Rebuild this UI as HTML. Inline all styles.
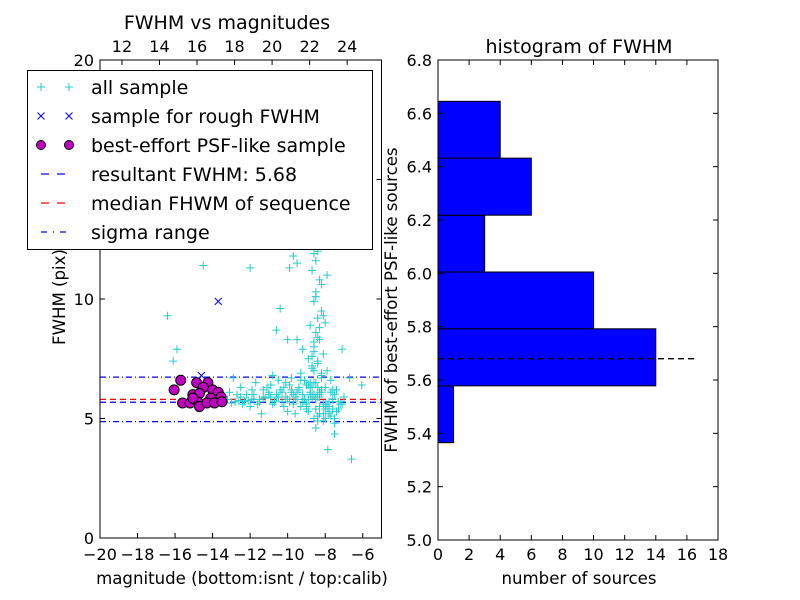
<!DOCTYPE html>
<html><head><meta charset="utf-8"><style>
body{margin:0;background:#fff}
svg{display:block;font-family:"DejaVu Sans","Liberation Sans",sans-serif}
</style></head><body>
<svg id="c" width="800" height="600" viewBox="0 0 800 600"></svg>
<script>
// ---- data ----
const allMag = [-14.5,-12.0,-16.4,-15.9,-16.1,-9.7,-9.5,-9.9,-10.4,-10.6,-10.0,-9.5,-9.2,-7.1,-6.05,-6.7,-7.86,-6.6,-7.5,
 -8.6,-8.4,-8.5,-8.7,-8.3,-8.5,-8.6,-8.2,-8.4,-8.8,-8.5,-8.3,-8.6,-8.1,-8.4,-8.7,-8.2,-8.5,-8.0,-8.3,-8.6,-8.4,-7.9,-8.2,-7.7,-7.6,-8.8,-9.0,-8.4,-8.5,-8.3,
 -13.2,-12.8,-12.5,-12.1,-11.8,-11.5,-11.2,-10.9,-10.6,-10.3,-10.0,-9.8,-9.6,-9.4,-9.2,-9.0,-8.8,-8.6,-8.4,-8.2,-8.0,-7.8,-7.6,-7.4,-7.2,
 -13.0,-12.6,-12.3,-11.9,-11.6,-11.3,-11.0,-10.7,-10.4,-10.1,-9.9,-9.7,-9.5,-9.3,-9.1,-8.9,-8.7,-8.5,-8.3,-8.1,-7.9,-7.7,-7.5,-7.3,
 -12.9,-12.2,-11.7,-11.1,-10.5,-10.2,-9.8,-9.6,-9.3,-9.0,-8.7,-8.4,-8.1,-7.8,-7.5,-7.0,-11.4,-10.8,-9.2,-8.9,-8.6,-8.0,-7.7,-12.0,-10.0,
 -13.4,-13.1,-12.7,-12.4,-11.9,-11.5,-11.0,-10.8,-10.5,-10.2,-9.9,-9.7,-9.4,-9.1,-8.9,-8.6,-8.3,-8.0,-7.8,-7.5,-7.3,-7.1,
 -12.5,-11.8,-11.3,-10.9,-10.6,-10.3,-10.1,-9.8,-9.5,-9.3,-9.0,-8.8,-8.5,-8.2,-7.9,-7.6,-7.4,
 -8.9,-8.7,-8.4,-8.1,-8.6,-8.3,-8.0,-8.8,-8.5,-8.2,-7.8,-8.6,-8.3,-8.7,-8.4,-8.1,-8.5,-8.2,-7.9,-8.6];
const allFwhm = [11.4,11.3,9.3,7.9,7.4,11.8,11.5,11.3,9.6,8.7,8.3,8.3,7.9,7.9,6.4,6.7,3.7,3.3,4.35,
 12.4,12.0,11.6,11.2,10.8,10.3,9.9,9.5,9.2,8.9,8.6,8.3,8.0,7.7,7.4,7.1,6.8,6.5,9.0,8.8,8.2,7.3,7.0,6.9,6.6,6.2,6.0,5.5,4.9,4.6,5.2,
 5.8,5.7,5.9,5.75,5.8,5.7,5.85,5.9,6.0,6.1,5.8,6.2,5.9,6.3,6.0,6.4,6.1,6.5,5.9,6.2,5.6,5.5,5.4,5.3,5.6,
 5.65,5.75,5.7,5.8,5.6,5.9,6.0,5.7,6.2,5.9,6.4,5.6,6.1,5.5,6.6,5.8,6.3,5.4,6.0,5.2,5.6,5.1,5.0,5.7,
 6.7,6.0,6.5,6.3,6.6,5.5,6.7,5.2,6.9,5.4,7.2,5.1,4.9,5.3,4.8,5.9,5.2,6.8,5.7,7.5,7.8,5.0,6.1,5.5,5.3,
 5.9,6.1,6.0,5.6,6.2,5.8,6.1,5.6,5.9,6.3,5.7,6.0,6.2,5.8,6.4,6.0,5.9,6.3,5.7,6.0,5.4,5.6,
 6.3,6.0,6.2,6.4,5.9,5.7,6.5,6.1,5.8,6.6,5.6,6.3,5.9,6.1,5.5,5.8,6.2,
 5.3,5.9,6.3,5.6,5.0,6.1,5.4,6.5,5.8,6.7,5.2,7.0,5.5,7.6,8.4,9.3,10.1,10.6,11.0,11.9];
const roughMag = [-13.7,-14.6,-14.9,-14.3];
const roughFwhm = [9.9,6.8,5.7,6.4];
const psfMag = [-15.7,-16.05,-14.85,-14.25,-14.5,-14.0,-13.7,-15.05,-14.7,-14.1,-13.55,-15.6,-15.2,-14.8,-14.7,-14.3,-13.9,-13.5,-15.05];
const psfFwhm = [6.6,6.2,6.5,6.5,6.3,6.2,6.1,6.0,6.05,5.85,5.9,5.65,5.65,5.7,5.5,5.65,5.65,5.7,5.85];
const resultFwhm = 5.68, medianFwhm = 5.8, sigLo = 4.87, sigHi = 6.73;
const binEdges = [5.365,5.578,5.792,6.005,6.218,6.432,6.645];
const binCounts = [1,14,10,3,6,4];
const xTicksL = [-20,-18,-16,-14,-12,-10,-8,-6];
const xTickLabelsL = ["\u221220","\u221218","\u221216","\u221214","\u221212","\u221210","\u22128","\u22126"];
const topTicks = [12,14,16,18,20,22,24];
const yTicksL = [0,5,10,15,20];
const xTicksR = [0,2,4,6,8,10,12,14,16,18];
const yTicksR = [5.0,5.2,5.4,5.6,5.8,6.0,6.2,6.4,6.6,6.8];

const S = document.getElementById('c'), NS='http://www.w3.org/2000/svg';
function el(t,a,p){const e=document.createElementNS(NS,t);for(const k in a)e.setAttribute(k,a[k]);(p||S).appendChild(e);return e;}
function txt(x,y,s,size,anchor,extra){const e=el('text',Object.assign({x:x,y:y,'font-size':size,'text-anchor':anchor||'middle',fill:'#000'},extra||{}));e.textContent=s;return e;}

const L={x0:100,x1:381.5,y0:538,y1:60};
const lx=m=>L.x0+(m+20)/15*(L.x1-L.x0);
const ly=f=>L.y0-f/20*(L.y0-L.y1);
const topX=t=>lx(t-30.83);
const R={x0:438,x1:718,y0:540,y1:60};
const rx=n=>R.x0+n/18*(R.x1-R.x0);
const ry=f=>R.y0-(f-5)/1.8*(R.y0-R.y1);

const gl=el('g',{});


for(const [f,c,d,n] of [[sigHi,'#00f','6,3,1,3','sigma-high-line'],[sigLo,'#00f','6,3,1,3','sigma-low-line'],[medianFwhm,'#f00','6,4','median-line'],[resultFwhm,'#00f','6,4','resultant-line']]){
  const ln=el('line',{x1:L.x0,x2:L.x1,y1:ly(f),y2:ly(f),stroke:c,'stroke-width':1.3,'stroke-dasharray':d},gl);
  
  
}
for(let i=0;i<allMag.length;i++){
  const x=lx(allMag[i]),y=ly(allFwhm[i]);
  const p=el('path',{d:`M${x-4},${y}H${x+4}M${x},${y-4}V${y+4}`,stroke:'#2cc',fill:'none','stroke-width':1},gl);
  
  
}
for(let i=0;i<roughMag.length;i++){
  const x=lx(roughMag[i]),y=ly(roughFwhm[i]);
  const p=el('path',{d:`M${x-3.5},${y-3.5}L${x+3.5},${y+3.5}M${x-3.5},${y+3.5}L${x+3.5},${y-3.5}`,stroke:'#00f',fill:'none','stroke-width':1},gl);
  
  
}
for(let i=0;i<psfMag.length;i++){
  const c=el('circle',{cx:lx(psfMag[i]),cy:ly(psfFwhm[i]),r:5,fill:'#bf00bf',stroke:'#000','stroke-width':1},gl);
  
  
}
el('rect',{x:L.x0,y:L.y1,width:L.x1-L.x0,height:L.y0-L.y1,fill:'none',stroke:'#000','stroke-width':1});
xTicksL.forEach((t,i)=>{const x=lx(t);el('line',{x1:x,x2:x,y1:L.y0,y2:L.y0-5,stroke:'#000'});
  const e=txt(x,L.y0+22,xTickLabelsL[i],16);});
topTicks.forEach(t=>{const x=topX(t);el('line',{x1:x,x2:x,y1:L.y1,y2:L.y1+5,stroke:'#000'});
  const e=txt(x,L.y1-8,String(t),16);});
yTicksL.forEach(t=>{const y=ly(t);el('line',{x1:L.x0,x2:L.x0+5,y1:y,y2:y,stroke:'#000'});el('line',{x1:L.x1,x2:L.x1-5,y1:y,y2:y,stroke:'#000'});
  const e=txt(L.x0-6,y+6,String(t),16,'end');});
let e=txt(242,584,'magnitude (bottom:isnt / top:calib)',16.6);
e=txt(0,0,'FWHM (pix)',16.6,'middle',{transform:'translate(65,297) rotate(-90)'});
e=txt(227,29,'FWHM vs magnitudes',19);

const lg=el('g',{});


el('rect',{x:27.5,y:70.5,width:345,height:179,fill:'#fff',stroke:'#000','stroke-width':1},lg);
const items=[['all sample','plus'],['sample for rough FWHM','x'],['best-effort PSF-like sample','o'],['resultant FWHM: 5.68','dashb'],['median FHWM of sequence','dashr'],['sigma range','dashdot']];
items.forEach((it,i)=>{const y=87+i*29;
  const g=el('g',{},lg);
  for(const x of [41,69]){
    if(it[1]=='plus')el('path',{d:`M${x-4},${y}H${x+4}M${x},${y-4}V${y+4}`,stroke:'#2cc'},g);
    if(it[1]=='x')el('path',{d:`M${x-3.5},${y-3.5}L${x+3.5},${y+3.5}M${x-3.5},${y+3.5}L${x+3.5},${y-3.5}`,stroke:'#00f'},g);
    if(it[1]=='o')el('circle',{cx:x,cy:y,r:4.5,fill:'#bf00bf',stroke:'#000'},g);
  }
  if(it[1]=='dashb')el('line',{x1:41,x2:68,y1:y,y2:y,stroke:'#00f','stroke-width':1.3,'stroke-dasharray':'8,8'},g);
  if(it[1]=='dashr')el('line',{x1:41,x2:68,y1:y,y2:y,stroke:'#f00','stroke-width':1.3,'stroke-dasharray':'8,8'},g);
  if(it[1]=='dashdot')el('line',{x1:41,x2:68,y1:y,y2:y,stroke:'#00f','stroke-width':1.3,'stroke-dasharray':'6,6,1,6'},g);
  const t=el('text',{x:91,y:y+7,'font-size':19,fill:'#000'},g);t.textContent=it[0];
});

const gr=el('g',{});


binCounts.forEach((c,i)=>{const y1=ry(binEdges[i+1]),y0=ry(binEdges[i]);
  const b=el('rect',{x:R.x0,y:y1,width:rx(c)-R.x0,height:y0-y1,fill:'#00f',stroke:'#000','stroke-width':1},gr);
  
  });
const hl=el('line',{x1:R.x0,x2:rx(16.5),y1:ry(resultFwhm),y2:ry(resultFwhm),stroke:'#000','stroke-width':1.3,'stroke-dasharray':'6,4'});


el('rect',{x:R.x0,y:R.y1,width:R.x1-R.x0,height:R.y0-R.y1,fill:'none',stroke:'#000'});
xTicksR.forEach(t=>{const x=rx(t);el('line',{x1:x,x2:x,y1:R.y0,y2:R.y0-5,stroke:'#000'});el('line',{x1:x,x2:x,y1:R.y1,y2:R.y1+5,stroke:'#000'});
  const e=txt(x,R.y0+20,String(t),16);});
yTicksR.forEach(t=>{const y=ry(t);el('line',{x1:R.x0,x2:R.x0+5,y1:y,y2:y,stroke:'#000'});el('line',{x1:R.x1,x2:R.x1-5,y1:y,y2:y,stroke:'#000'});
  const e=txt(R.x0-6,y+6,t.toFixed(1),16,'end');});
e=txt(579,584,'number of sources',16.6);
e=txt(0,0,'FWHM of best-effort PSF-like sources',16.6,'middle',{transform:'translate(397,300) rotate(-90)'});
e=txt(579,53,'histogram of FWHM',19);
</script>
</body></html>
